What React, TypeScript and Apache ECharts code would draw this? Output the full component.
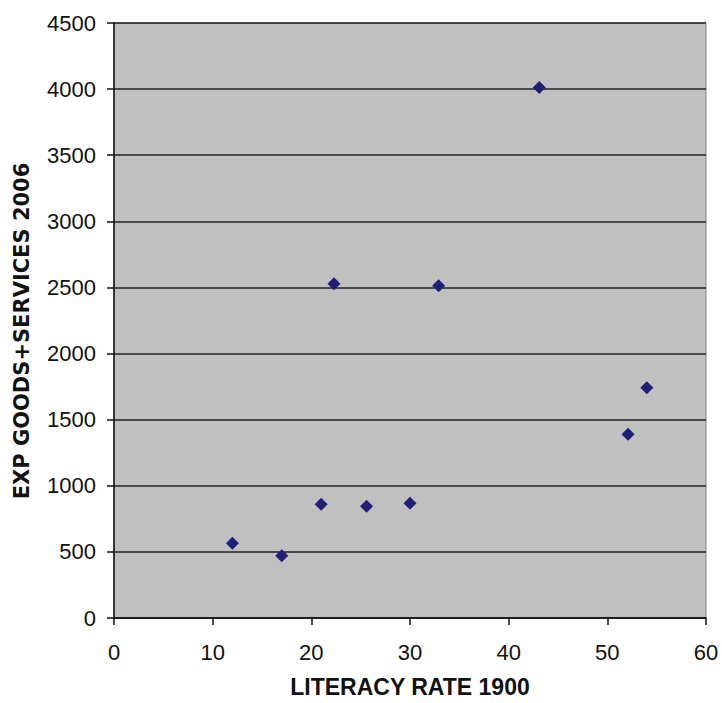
import React, { useEffect, useRef } from "react";
import * as echarts from "echarts";

const literacy = [12, 17, 21, 22.3, 25.6, 30, 32.9, 43.1, 52.1, 54];
const expGoods = [565, 470, 860, 2528, 845, 868, 2512, 4013, 1389, 1742];
const xTicks = { min: 0, max: 60, interval: 10 };
const yTicks = { min: 0, max: 4500, interval: 500 };
const xTitle = "LITERACY RATE 1900";
const yTitle = "EXP GOODS+SERVICES 2006";

export default function App() {
  const ref = useRef<HTMLDivElement>(null);
  useEffect(() => {
    if (!ref.current) return;
    const chart = echarts.init(ref.current, null, { renderer: "svg" });
    const data = literacy.map((x, i) => [x, expGoods[i]]);
    const font = "Liberation Sans, Arial, sans-serif";
    chart.setOption({
      animation: false,
      backgroundColor: "#ffffff",
      grid: {
        left: 114,
        right: 16,
        top: 23,
        bottom: 84,
        show: true,
        backgroundColor: "#c0c0c0",
        borderColor: "#808080",
        borderWidth: 1,
      },
      graphic: [
        {
          type: "text",
          x: 22,
          y: 331,
          rotation: Math.PI / 2,
          style: {
            text: yTitle,
            align: "center",
            verticalAlign: "middle",
            font: "bold 21px 'DejaVu Sans', sans-serif",
            fill: "#111",
          },
        },
      ],
      xAxis: {
        type: "value",
        ...xTicks,
        name: xTitle,
        nameLocation: "middle",
        nameGap: 57,
        nameTextStyle: { fontFamily: font, fontWeight: "bold", fontSize: 23, color: "#111" },
        axisLine: { show: true, onZero: false, lineStyle: { color: "#111", width: 1.5 } },
        axisTick: { show: true, length: 7, lineStyle: { color: "#111", width: 1.5 } },
        axisLabel: { margin: 23, fontFamily: font, fontSize: 22, color: "#111" },
        splitLine: { show: false },
      },
      yAxis: {
        type: "value",
        ...yTicks,
        axisLine: { show: true, onZero: false, lineStyle: { color: "#111", width: 1.5 } },
        axisTick: { show: true, length: 7, lineStyle: { color: "#111", width: 1.5 } },
        axisLabel: {
          margin: 18,
          fontFamily: font,
          fontSize: 22,
          color: "#111",
          formatter: (v: number) => String(v),
        },
        splitLine: { show: true, lineStyle: { color: "#222", width: 1.5 } },
      },
      series: [
        {
          type: "scatter",
          data,
          symbol: "diamond",
          symbolSize: 13,
          itemStyle: { color: "#1f1f78", opacity: 1 },
        },
      ],
    });
    return () => chart.dispose();
  }, []);
  return <div ref={ref} style={{ width: 722, height: 703, position: "absolute", left: 0, top: 0 }} />;
}
